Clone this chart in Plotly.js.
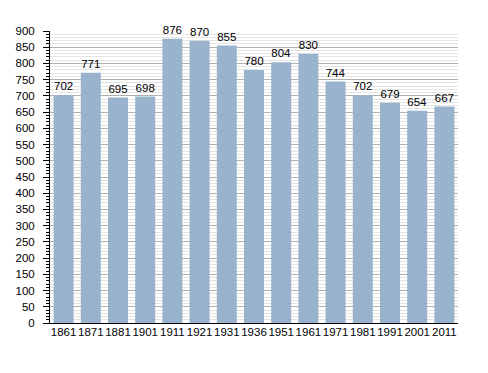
<!DOCTYPE html>
<html><head><meta charset="utf-8">
<script src="https://cdn.plot.ly/plotly-3.0.1.min.js"></script>
<style>body{margin:0;padding:0;background:#fff}#chart{width:488px;height:373px}</style>
</head><body><div id="chart"></div>
<script>
var years = ["1861","1871","1881","1901","1911","1921","1931","1936","1951","1961","1971","1981","1991","2001","2011"];
var population = [702,771,695,698,876,870,855,780,804,830,744,702,679,654,667];

var trace = {
  type: 'bar', x: years, y: population,
  text: population.map(String), textposition: 'outside', cliponaxis: false,
  textfont: {family: 'Liberation Sans, Arial, sans-serif', size: 11.5, color: '#000'},
  marker: {color: '#9ab3cd', line: {width: 0}},
  hoverinfo: 'none'
};
var layout = {
  width: 488, height: 373,
  margin: {l: 50, r: 30, t: 31, b: 50},
  paper_bgcolor: '#fff', plot_bgcolor: '#fff',
  bargap: 0.265, showlegend: false,
  font: {family: 'Liberation Sans, Arial, sans-serif', size: 11.5, color: '#000'},
  xaxis: {type: 'category', showline: true, linecolor: '#000', linewidth: 1,
    ticks: '', tickangle: 0, tickfont: {size: 11.5}, showgrid: false, zeroline: false, ticklabelstandoff: -2},
  yaxis: {range: [0, 900], dtick: 50, showline: true, linecolor: '#000', linewidth: 1,
    ticks: 'outside', ticklen: 6, tickcolor: '#000', gridcolor: '#b0b0b0', gridwidth: 1,
    zeroline: false, tickfont: {size: 11.5}, ticklabelstandoff: 6,
    minor: {dtick: 10, showgrid: true, gridcolor: '#e4e4e4', ticks: 'outside', ticklen: 3, tickcolor: '#000'}}
};
Plotly.newPlot('chart', [trace], layout, {staticPlot: true});
</script></body></html>
